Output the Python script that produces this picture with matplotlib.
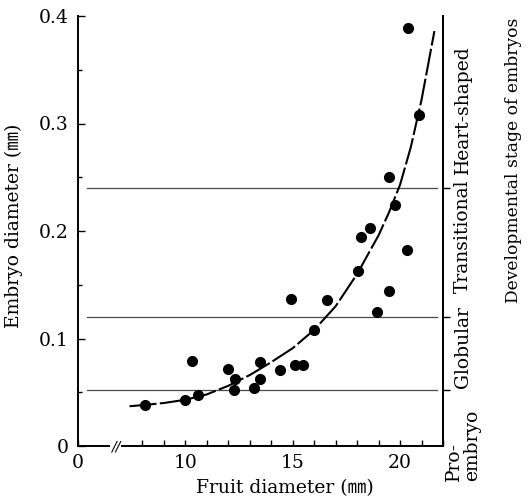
import matplotlib
matplotlib.use("Agg")
import matplotlib.pyplot as plt
import matplotlib.transforms as mtransforms

# fruit diameter (mm) vs embryo diameter (mm)
FRUIT = [8.11, 9.97, 10.57, 10.31, 11.99, 12.29, 12.28, 13.46, 13.49, 13.18,
         14.42, 15.13, 15.47, 14.93, 16.59, 16.00, 18.06, 18.19, 18.59, 19.47,
         19.75, 20.31, 19.49, 18.94, 20.36, 20.90]
EMBRYO = [0.038, 0.043, 0.047, 0.079, 0.072, 0.062, 0.052, 0.078, 0.062, 0.054,
          0.071, 0.075, 0.075, 0.137, 0.136, 0.108, 0.163, 0.194, 0.203, 0.250,
          0.224, 0.182, 0.144, 0.125, 0.389, 0.308]

# fitted curve
CURVE_X = [7.4, 8.0, 9.0, 10.0, 11.0, 12.0, 13.0, 14.0, 15.0, 16.0, 17.0,
           18.0, 19.0, 19.5, 20.0, 20.5, 21.0, 21.6]
CURVE_Y = [0.037, 0.038, 0.040, 0.043, 0.048, 0.056, 0.066, 0.078, 0.091,
           0.108, 0.130, 0.160, 0.196, 0.218, 0.243, 0.278, 0.322, 0.386]

# stage boundaries (embryo diameter, mm) and stage names
STAGE_BOUNDS = [0.052, 0.12, 0.24]
STAGES = ["Pro-\nembryo", "Globular", "Transitional", "Heart-shaped"]
STAGE_Y = [0.001, 0.092, 0.195, 0.313]

X_MAJOR = [10, 15, 20]
X_MINOR = [8, 9, 11, 12, 13, 14, 16, 17, 18, 19, 21, 22]
Y_MAJOR = [0, 0.1, 0.2, 0.3, 0.4]
Y_LABELS = ["0", "0.1", "0.2", "0.3", "0.4"]
Y_MINOR = [0.05, 0.15, 0.25, 0.35]

XMIN, XMAX = 5.0, 22.0
FONT = ["DejaVu Serif", "Noto Sans CJK JP"]
FS = 13.5

W, H = 528, 501


def fx(px):
    return px / W


def fy(py):
    return 1 - py / H


plt.rcParams["font.family"] = FONT
fig = plt.figure(figsize=(W / 100, H / 100), dpi=100)
ax = fig.add_axes([fx(78), fy(446), (443 - 78) / W, (446 - 16) / H])

ax.set_xlim(XMIN, XMAX)
ax.set_ylim(0, 0.4)
ax.spines["top"].set_visible(False)
for s in ("left", "bottom", "right"):
    ax.spines[s].set_linewidth(1.4)

# stage boundary lines
for b in STAGE_BOUNDS:
    ax.plot([5.44, 21.72], [b, b], color="#4a4a4a", lw=0.9, zorder=1)

ax.plot(CURVE_X, CURVE_Y, color="black", lw=1.5, dashes=(13, 1.6), zorder=2)
ax.plot(FRUIT, EMBRYO, "o", color="black", ms=7, zorder=3)

# x ticks: broken axis, leftmost tick labelled 0
ax.set_xticks([XMIN] + X_MAJOR)
ax.set_xticklabels(["0"] + [str(v) for v in X_MAJOR])
ax.set_xticks(X_MINOR, minor=True)
ax.tick_params(axis="x", which="both", direction="in", length=4, width=1,
               labelsize=FS, pad=6)
ax.set_yticks(Y_MAJOR)
ax.set_yticklabels(Y_LABELS)
ax.set_yticks(Y_MINOR, minor=True)
ax.tick_params(axis="y", which="major", direction="in", length=5, width=1,
               labelsize=FS, pad=7)
ax.tick_params(axis="y", which="minor", direction="in", length=3, width=1)

# axis break mark
ax.text(6.74, 0, "//", ha="center", va="center", fontsize=10,
        family="DejaVu Sans", style="italic",
        bbox=dict(facecolor="white", edgecolor="none", pad=0.5), zorder=5,
        clip_on=False)

# right axis: stage ticks
ax2 = ax.twinx()
ax2.set_ylim(0, 0.4)
ax2.set_yticks(STAGE_BOUNDS)
ax2.set_yticklabels([])
ax2.tick_params(axis="y", direction="out", length=5, width=1)
for s in ("top", "left", "bottom"):
    ax2.spines[s].set_visible(False)
ax2.spines["right"].set_linewidth(1.4)

trans = mtransforms.blended_transform_factory(fig.transFigure, ax.transData)
for name, yv in zip(STAGES, STAGE_Y):
    ax.text(fx(463), yv, name, transform=trans, rotation=90, ha="center",
            va="center", fontsize=FS, multialignment="left", clip_on=False,
            linespacing=1.0)

fig.text(fx(513), fy(160), "Developmental stage of embryos", rotation=90,
         ha="center", va="center", fontsize=12.3)
fig.text(fx(285), fy(488), "Fruit diameter (\u339c)", ha="center",
         va="center", fontsize=FS)
fig.text(fx(14), fy(226), "Embryo diameter (\u339c)", rotation=90,
         ha="center", va="center", fontsize=FS)

fig.savefig("out.png", dpi=100, facecolor="white")
